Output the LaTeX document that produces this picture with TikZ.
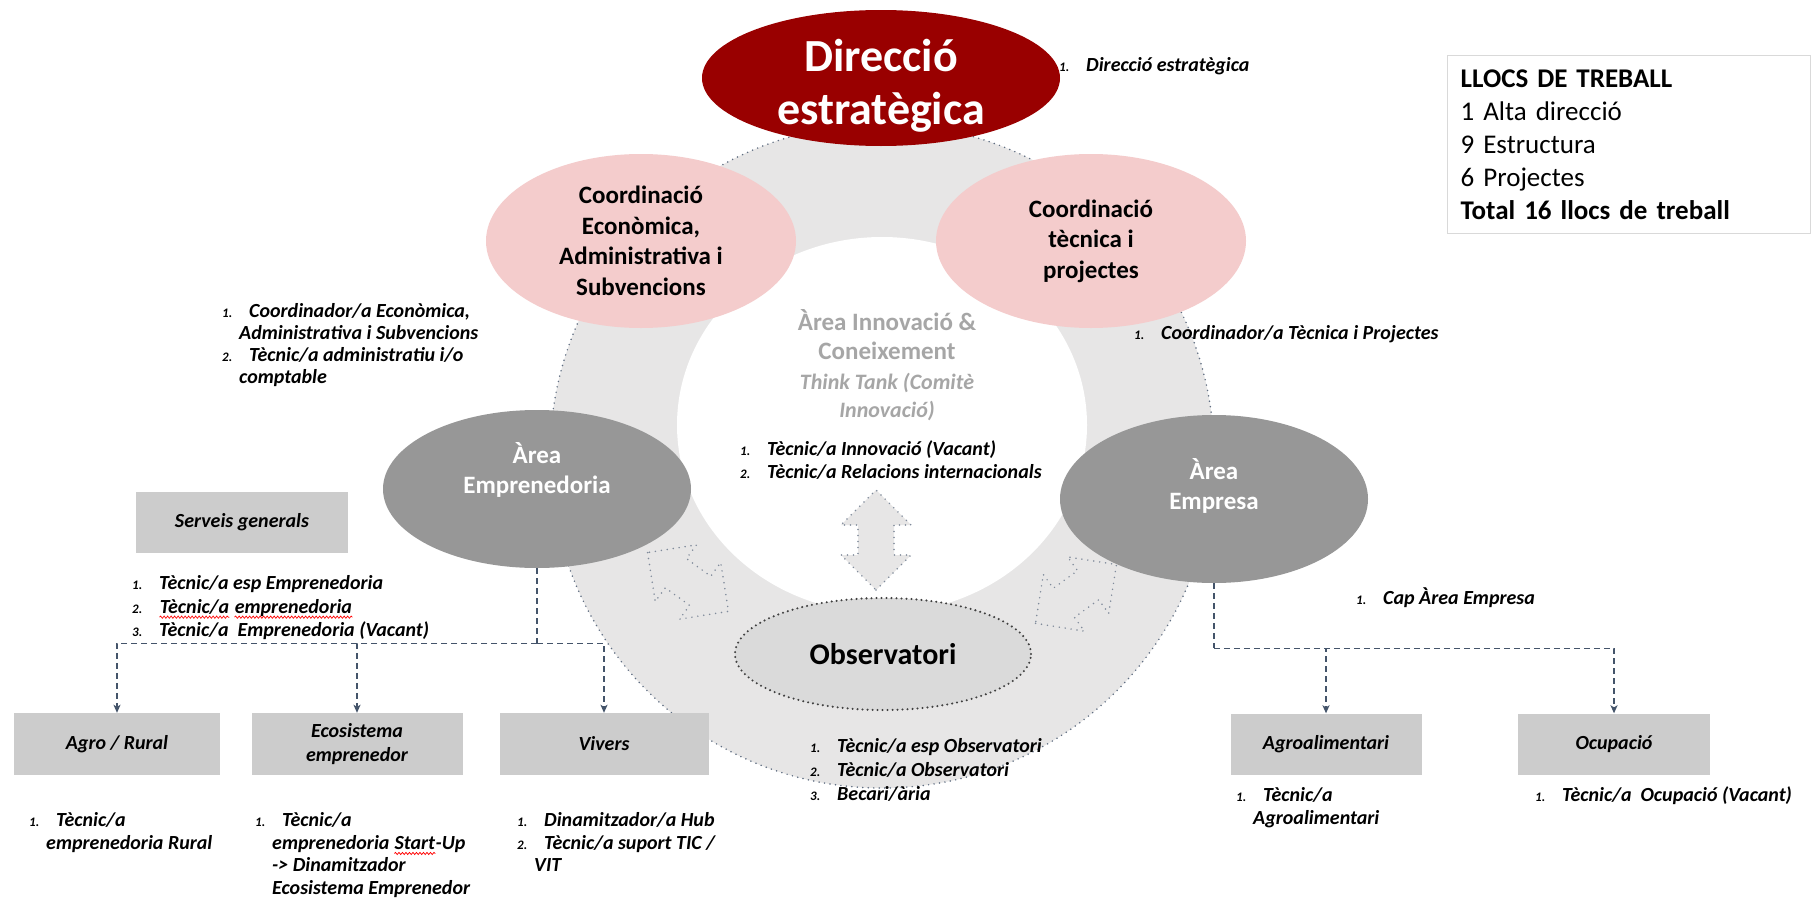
\documentclass[tikz,border=0pt]{standalone}
\usepackage{fontspec}
\setmainfont{Carlito}
\usetikzlibrary{shapes.geometric,arrows.meta,decorations.pathmorphing}
\definecolor{direcred}{RGB}{153,0,0}
\definecolor{coordpink}{RGB}{244,204,204}
\definecolor{areagray}{RGB}{151,151,151}
\definecolor{ringgray}{RGB}{231,230,230}
\definecolor{obsgray}{RGB}{218,218,218}
\definecolor{boxgray}{RGB}{204,204,204}
\definecolor{linkblue}{RGB}{68,84,106}
\definecolor{dotblue}{RGB}{96,110,130}
\definecolor{innovgray}{RGB}{166,166,166}
\definecolor{framegray}{RGB}{217,217,217}

% list lines: number + text, and continuation line
\newcommand{\numline}[2]{\strut\makebox[27pt][l]{\fontsize{13}{13}\selectfont #1.}#2}
\newcommand{\contline}[1]{\strut\hspace*{17pt}#1}
% spell-check wave under a word
\newcommand{\spellwave}[1]{\tikz[baseline=(sw.base)]{\node[inner sep=0pt] (sw) {#1};
    \draw[red, line width=0.7pt, decorate, decoration={snake, amplitude=1.1pt, segment length=3.5pt}]
      ([yshift=-4pt]sw.base west) -- ([yshift=-4pt]sw.base east);}}
% double arrow, centre x, centre y, angle
\newcommand{\dblarrow}[3]{%
  \draw[arrowdots, fill=ringgray, shift={(#1,#2)}, rotate=#3]
    (-50,0) -- (-15,35) -- (-15,18) -- (15,18) -- (15,35) -- (50,0)
    -- (15,-35) -- (15,-18) -- (-15,-18) -- (-15,-35) -- cycle;}

\begin{document}
\begin{tikzpicture}[x=1pt,y=-1pt,
    ell/.style={ellipse, inner sep=0pt},
    whitetxt/.style={text=white, align=center, font=\fontsize{25}{30}\selectfont\bfseries},
    lst/.style={anchor=north west, inner sep=0pt, align=left, font=\fontsize{20}{23}\selectfont\bfseries\itshape},
    unitbox/.style={fill=boxgray, inner sep=0pt, align=center, font=\fontsize{20}{24}\selectfont\bfseries\itshape},
    trunk/.style={linkblue, line width=1.4pt, dash pattern=on 6pt off 4pt},
    tree/.style={trunk, -{Stealth[length=8pt,width=7pt,inset=2pt]}},
    ringdots/.style={dotblue, line width=1.7pt, line cap=round, dash pattern=on 0pt off 5.5pt},
    arrowdots/.style={dotblue!80, line width=1.7pt, line cap=round, dash pattern=on 0pt off 6pt},
    obsdots/.style={black!75, line width=2.3pt, line cap=round, dash pattern=on 0pt off 5pt}]

    \useasboundingbox (0,0) rectangle (1812,902);
    \fill[white] (0,0) rectangle (1812,902);

    % Ring
    \fill[ringgray] (882,456) circle[radius=332pt];
    \draw[ringdots] (882,456) circle[radius=332pt];
    \fill[white] (882,425) ellipse[x radius=205pt, y radius=188pt];

    % Arrows in the ring
    \dblarrow{876}{540}{90}
    \dblarrow{688}{582}{-36}
    \dblarrow{1076}{594}{36}

    % Direccio
    \node[ell, fill=direcred, minimum width=358pt, minimum height=136pt] (direccio) at (881,78) {};
    \node[text=white, align=center, font=\fontsize{46}{53}\selectfont\bfseries] (direcciotxt) at (881,86) {Direcció\\estratègica};
    \node[lst] (dirlist) at (1059,55) {\numline{1}{Direcció estratègica}};

    % Coordinacions
    \node[ell, fill=coordpink, minimum width=310pt, minimum height=174pt] (coordeco) at (641,241) {};
    \node[align=center, font=\fontsize{25}{30.5}\selectfont\bfseries] (coordecotxt) at (641,241) {Coordinació\\Econòmica,\\Administrativa i\\Subvencions};
    \node[ell, fill=coordpink, minimum width=310pt, minimum height=174pt] (coordtec) at (1091,241) {};
    \node[align=center, font=\fontsize{25}{30.5}\selectfont\bfseries] (coordtectxt) at (1091,241) {Coordinació\\tècnica i\\projectes};

    \node[lst, font=\fontsize{20}{22}\selectfont\bfseries\itshape] (ecolist) at (222,302)
        {\numline{1}{Coordinador/a Econòmica,}\\ \contline{Administrativa i Subvencions}\\
         \numline{2}{Tècnic/a administratiu i/o}\\ \contline{comptable}};
    \node[lst] (teclist) at (1134,323) {\numline{1}{Coordinador/a Tècnica i Projectes}};

    % Innovacio
    \node[text=innovgray, align=center, font=\fontsize{25}{29}\selectfont\bfseries] (innov) at (887,335) {Àrea Innovació \&\\Coneixement};
    \node[text=innovgray, align=center, font=\fontsize{22}{28}\selectfont\bfseries\itshape] (think) at (887,397) {Think Tank (Comitè\\Innovació)};
    \node[lst] (innovlist) at (740,439)
        {\numline{1}{Tècnic/a Innovació (Vacant)}\\ \numline{2}{Tècnic/a Relacions internacionals}};

    % Arees
    \node[ell, fill=areagray, minimum width=308pt, minimum height=158pt] (empren) at (537,489) {};
    \node[whitetxt] (emprentxt) at (537,470) {Àrea\\Emprenedoria};
    \node[ell, fill=areagray, minimum width=308pt, minimum height=168pt] (empresa) at (1214,499) {};
    \node[whitetxt] (empresatxt) at (1214,486) {Àrea\\Empresa};

    % Observatori
    \node[ell, fill=obsgray, minimum width=296pt, minimum height=112pt, font=\fontsize{30}{36}\selectfont\bfseries] (obs) at (883,654) {Observatori};
    \draw[obsdots] (obs.center) ellipse[x radius=148pt, y radius=56pt];
    \node[lst, font=\fontsize{20}{24}\selectfont\bfseries\itshape] (obslist) at (810,735)
        {\numline{1}{Tècnic/a esp Observatori}\\ \numline{2}{Tècnic/a Observatori}\\ \numline{3}{Becari/ària}};

    % Emprenedoria
    \node[unitbox, minimum width=212pt, minimum height=61pt] (serveis) at (242,522) {Serveis generals};
    \node[lst, font=\fontsize{20}{23.5}\selectfont\bfseries\itshape] (emplist) at (132,573)
        {\numline{1}{Tècnic/a esp Emprenedoria}\\ \numline{2}{\spellwave{Tècnic/a} \spellwave{emprenedoria}}\\
         \numline{3}{Tècnic/a\ \ Emprenedoria (Vacant)}};

    \node[unitbox, minimum width=206pt, minimum height=62pt] (agro) at (117,744) {Agro / Rural};
    \node[unitbox, minimum width=211pt, minimum height=62pt] (ecosis) at (357,744) {Ecosistema\\emprenedor};
    \node[unitbox, minimum width=209pt, minimum height=62pt] (vivers) at (604,744) {Vivers};

    \coordinate (emprenbus) at ([yshift=-75pt]empren.south);
    \draw[trunk] (empren.south) -- (emprenbus);
    \draw[tree] (emprenbus) -| (agro.north);
    \draw[tree] (emprenbus) -| (ecosis.north);
    \draw[tree] (emprenbus) -| (vivers.north);

    \node[lst, font=\fontsize{20}{22.5}\selectfont\bfseries\itshape] (agrolist) at (29,811)
        {\numline{1}{Tècnic/a}\\ \contline{emprenedoria Rural}};
    \node[lst, font=\fontsize{20}{22.5}\selectfont\bfseries\itshape] (ecosislist) at (255,811)
        {\numline{1}{Tècnic/a}\\ \contline{emprenedoria \spellwave{Start}-Up}\\
         \contline{-{}> Dinamitzador}\\ \contline{Ecosistema Emprenedor}};
    \node[lst, font=\fontsize{20}{22.5}\selectfont\bfseries\itshape] (viverslist) at (517,811)
        {\numline{1}{Dinamitzador/a Hub}\\ \numline{2}{Tècnic/a suport TIC /}\\ \contline{VIT}};

    % Empresa
    \node[lst] (caplist) at (1356,587) {\numline{1}{Cap Àrea Empresa}};
    \node[unitbox, minimum width=191pt, minimum height=61pt] (agroal) at (1326,744) {Agroalimentari};
    \node[unitbox, minimum width=192pt, minimum height=61pt] (ocup) at (1614,744) {Ocupació};

    \coordinate (empresabus) at ([yshift=-65pt]empresa.south);
    \draw[trunk] (empresa.south) -- (empresabus);
    \draw[tree] (empresabus) -| (agroal.north);
    \draw[tree] (empresabus) -| (ocup.north);

    \node[lst, font=\fontsize{20}{23}\selectfont\bfseries\itshape] (agroallist) at (1236,785)
        {\numline{1}{Tècnic/a}\\ \contline{Agroalimentari}};
    \node[lst] (ocuplist) at (1535,785) {\numline{1}{Tècnic/a\ \ Ocupació (Vacant)}};

    % Llocs de treball
    \node[draw=framegray, line width=1.2pt, anchor=north west, minimum width=363pt, minimum height=178pt,
          text width=337pt, inner xsep=13pt, align=left, font=\fontsize{27}{33}\selectfont] (llocs) at (1447,55)
        {\textbf{LLOCS DE TREBALL}\\ 1 Alta direcció\\ 9 Estructura\\ 6 Projectes\\ \textbf{Total 16 llocs de treball}};
\end{tikzpicture}
\end{document}
